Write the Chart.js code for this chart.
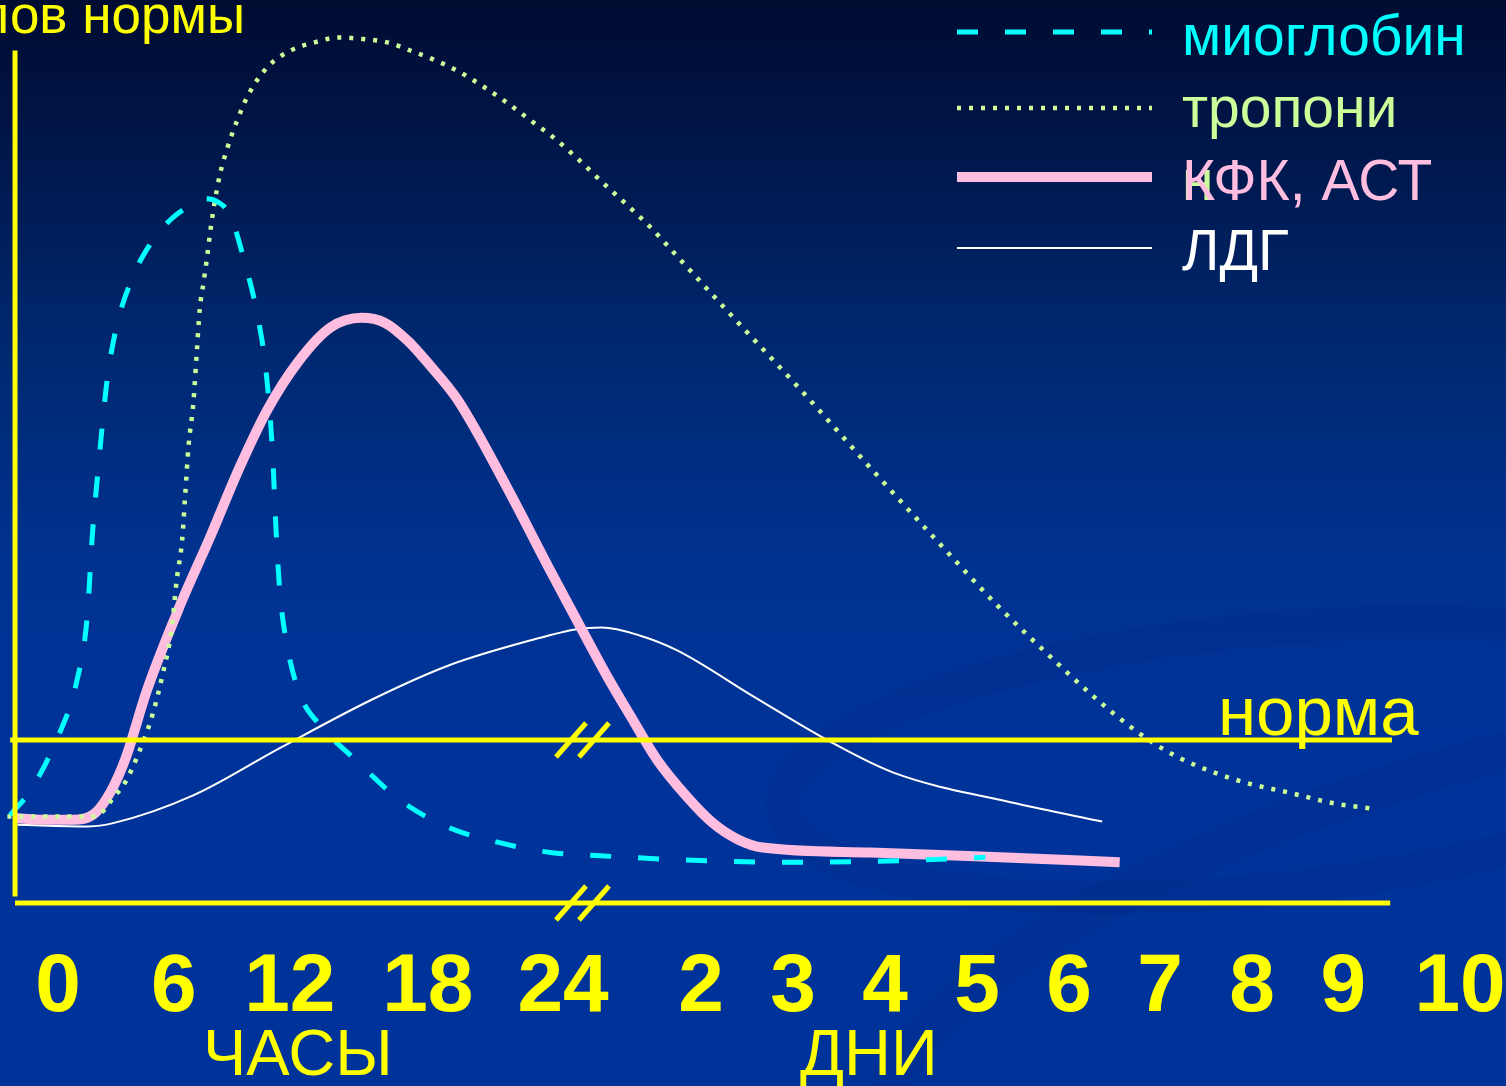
<!DOCTYPE html>
<html>
<head>
<meta charset="utf-8">
<script src="https://cdn.jsdelivr.net/npm/chart.js@4"></script>
<style>
  html, body { margin: 0; padding: 0; background: #003399; }
  #wrap { width: 1506px; height: 1086px; position: relative; }
</style>
</head>
<body>
<div id="wrap"><canvas id="markers"></canvas></div>
<script>
// time axis: one unit = one day step; hours 0..24 sit left of the break
const tickPos = [0, 1.26, 2.52, 4.02, 5.49, 6.99, 7.99, 8.99, 9.99, 10.99, 11.98, 12.98, 13.97, 15.24];
const tickLabels = ['0', '6', '12', '18', '24', '2', '3', '4', '5', '6', '7', '8', '9', '10'];

// level, in multiples of the upper norm (norm = 1)
const myoX = [-0.52, -0.30, 0, 0.20, 0.32, 0.37, 0.44, 0.53, 0.63, 0.82, 1.0, 1.22, 1.44, 1.60, 1.74, 1.87,
  2.03, 2.17, 2.26, 2.33, 2.37, 2.41, 2.49, 2.63, 2.85, 3.23, 3.72, 4.26, 4.80, 5.35, 5.89, 6.98, 8.07, 9.15, 10.08];
const myoY = [0.54, 0.69, 1.02, 1.35, 1.77, 2.23, 2.68, 3.19, 3.52, 3.85, 4.04, 4.19, 4.28, 4.32, 4.30, 4.22,
  3.93, 3.60, 3.27, 2.78, 2.29, 1.92, 1.58, 1.28, 1.09, 0.88, 0.63, 0.46, 0.37, 0.31, 0.29, 0.26, 0.25, 0.26, 0.28];

const tropX = [-0.55, 0.02, 0.40, 0.62, 0.73, 0.87, 1.03, 1.14, 1.23, 1.29, 1.35, 1.38, 1.42, 1.47, 1.51, 1.54,
  1.58, 1.62, 1.66, 1.70, 1.76, 1.84, 1.94, 2.07, 2.28, 2.53, 2.79, 3.05, 3.32, 3.58, 3.83, 4.10, 4.36, 4.62,
  4.88, 5.14, 5.40, 5.66, 5.92, 6.19, 6.45, 6.71, 7.41, 8.07, 8.83, 9.59, 10.22, 10.75, 11.27, 11.66, 11.91,
  12.19, 12.57, 12.96, 13.36, 13.88, 14.28];
const tropY = [0.53, 0.53, 0.53, 0.66, 0.74, 0.91, 1.16, 1.41, 1.66, 1.98, 2.23, 2.48, 2.81, 3.06, 3.39, 3.64,
  3.80, 3.96, 4.14, 4.29, 4.47, 4.63, 4.79, 4.96, 5.13, 5.23, 5.28, 5.31, 5.30, 5.28, 5.23, 5.17, 5.10, 5.01,
  4.91, 4.80, 4.69, 4.56, 4.42, 4.28, 4.14, 3.98, 3.55, 3.15, 2.67, 2.20, 1.82, 1.53, 1.26, 1.08, 0.98,
  0.89, 0.80, 0.73, 0.68, 0.61, 0.58];

const ckX = [-0.45, -0.09, 0.16, 0.40, 0.57, 0.73, 0.97, 1.33, 1.65, 1.98, 2.28, 2.61, 2.96, 3.30, 3.55,
  3.80, 4.04, 4.34, 4.88, 5.35, 5.71, 5.97, 6.22, 6.51, 6.84, 7.12, 7.39, 7.66, 8.83, 10.24, 11.54];
const ckY = [0.52, 0.51, 0.51, 0.55, 0.68, 0.88, 1.31, 1.83, 2.24, 2.68, 3.03, 3.32, 3.53, 3.59, 3.56,
  3.45, 3.30, 3.09, 2.55, 2.04, 1.66, 1.39, 1.15, 0.88, 0.65, 0.49, 0.39, 0.34, 0.31, 0.28, 0.25];

const ldhX = [-0.44, 0.33, 0.60, 1.47, 2.41, 3.42, 4.26, 5.13, 5.64, 5.91, 6.33, 6.73, 7.58, 8.36, 9.08, 10.42, 11.35];
const ldhY = [0.48, 0.47, 0.49, 0.66, 0.95, 1.25, 1.46, 1.61, 1.68, 1.69, 1.64, 1.55, 1.26, 1.00, 0.80, 0.61, 0.50];

const seriesNames = ['миоглобин', 'тропони', 'КФК, АСТ', 'ЛДГ'];

const YELLOW = '#ffff00';
const SANS = '"Liberation Sans", Arial, sans-serif';

function points(xs, ys) {
  return xs.map((x, i) => ({ x: x, y: ys[i] }));
}

const backdrop = {
  id: 'backdrop',
  beforeDraw(chart) {
    const { ctx, width, height } = chart;
    const g = ctx.createLinearGradient(0, 0, 0, height);
    g.addColorStop(0, '#000b31');
    g.addColorStop(0.12, '#001547');
    g.addColorStop(0.32, '#002870');
    g.addColorStop(0.52, '#003291');
    g.addColorStop(0.68, '#003399');
    g.addColorStop(1, '#003399');
    ctx.save();
    ctx.fillStyle = g;
    ctx.fillRect(0, 0, width, height);
    // faint swirl in the lower right
    ctx.strokeStyle = 'rgba(0, 30, 110, 0.1)';
    ctx.lineWidth = 34;
    ctx.beginPath();
    ctx.ellipse(1260, 760, 480, 130, -0.1, 0, Math.PI * 2);
    ctx.stroke();
    ctx.lineWidth = 40;
    ctx.beginPath();
    ctx.ellipse(1500, 960, 640, 200, -0.28, 0, Math.PI * 2);
    ctx.stroke();
    ctx.restore();
  }
};

const frame = {
  id: 'frame',
  afterDatasetsDraw(chart) {
    const { ctx } = chart;
    const xs = chart.scales.x, ys = chart.scales.y;
    const line = (x1, y1, x2, y2) => {
      ctx.beginPath();
      ctx.moveTo(xs.getPixelForValue(x1), ys.getPixelForValue(y1));
      ctx.lineTo(xs.getPixelForValue(x2), ys.getPixelForValue(y2));
      ctx.stroke();
    };
    ctx.save();
    ctx.strokeStyle = YELLOW;
    ctx.lineWidth = 5;
    ctx.lineCap = 'butt';
    line(-0.467, 5.23, -0.467, 0.04);   // value axis
    line(-0.467, 0, 14.48, 0);          // time axis
    line(-0.52, 1, 14.5, 1);            // upper norm
    // break marks between hours and days
    [5.576, 5.826].forEach(v => {
      [0, 1].forEach(level => {
        const cx = xs.getPixelForValue(v), cy = ys.getPixelForValue(level);
        ctx.beginPath();
        ctx.moveTo(cx - 15, cy + 17);
        ctx.lineTo(cx + 15, cy - 17);
        ctx.stroke();
      });
    });
    ctx.restore();
  }
};

const labels = {
  id: 'labels',
  afterDraw(chart) {
    const { ctx } = chart;
    const xs = chart.scales.x;
    ctx.save();
    ctx.fillStyle = YELLOW;
    ctx.textAlign = 'center';
    ctx.textBaseline = 'alphabetic';
    ctx.font = 'bold 82px ' + SANS;
    tickPos.forEach((v, i) => ctx.fillText(tickLabels[i], xs.getPixelForValue(v), 1011));

    ctx.textAlign = 'left';
    ctx.font = '65px ' + SANS;
    ctx.fillText('ЧАСЫ', 203, 1075);
    ctx.fillText('ДНИ', 800, 1075);

    ctx.font = '53px ' + SANS;
    ctx.textAlign = 'right';
    ctx.fillText('пределов нормы', 245, 33);

    ctx.textAlign = 'left';
    ctx.font = '69px ' + SANS;
    ctx.fillText('норма', 1218, 735);

    // legend
    const sampleY = [32, 108, 177, 248];
    const textY = [55, 127, 200, 270];
    ctx.font = '57px ' + SANS;
    // the wrapped last letter of the troponin label
    ctx.fillStyle = chart.data.datasets[1].borderColor;
    ctx.fillText('н', 1182, 200);
    chart.data.datasets.forEach((ds, i) => {
      ctx.strokeStyle = ds.borderColor;
      ctx.lineWidth = ds.borderWidth;
      ctx.setLineDash(ds.borderDash || []);
      ctx.beginPath();
      ctx.moveTo(957, sampleY[i]);
      ctx.lineTo(1152, sampleY[i]);
      ctx.stroke();
      ctx.setLineDash([]);
      ctx.fillStyle = ds.borderColor;
      ctx.fillText(ds.label, 1182, textY[i]);
    });
    ctx.restore();
  }
};

new Chart(document.getElementById('markers'), {
  type: 'line',
  data: {
    datasets: [{
      label: seriesNames[0],
      data: points(myoX, myoY),
      borderColor: '#00ffff',
      borderWidth: 5,
      borderDash: [21, 27]
    }, {
      label: seriesNames[1],
      data: points(tropX, tropY),
      borderColor: '#ccff99',
      borderWidth: 4.5,
      borderDash: [4, 8]
    }, {
      label: seriesNames[2],
      data: points(ckX, ckY),
      borderColor: '#ffbde0',
      borderWidth: 10
    }, {
      label: seriesNames[3],
      data: points(ldhX, ldhY),
      borderColor: '#ffffff',
      borderWidth: 2
    }]
  },
  options: {
    responsive: true,
    maintainAspectRatio: false,
    animation: false,
    layout: { padding: 0 },
    elements: {
      point: { radius: 0 },
      line: { cubicInterpolationMode: 'monotone', borderCapStyle: 'butt', borderJoinStyle: 'round', fill: false }
    },
    scales: {
      x: { type: 'linear', min: -0.6304, max: 15.739, display: false },
      y: { type: 'linear', min: -1.1227, max: 5.5399, display: false }
    },
    plugins: {
      legend: { display: false },
      tooltip: { enabled: false }
    }
  },
  plugins: [backdrop, frame, labels]
});
</script>
</body>
</html>
